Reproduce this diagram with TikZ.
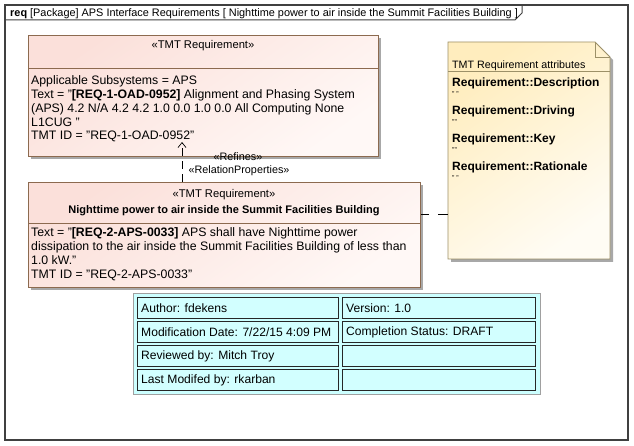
\documentclass[tikz,border=0pt]{standalone}
\usepackage{fontspec}
\setmainfont{Liberation Sans}
\usetikzlibrary{arrows.meta,shadows}
\definecolor{frameC}{HTML}{404040}
\definecolor{reqBorder}{HTML}{8C6A4F}
\definecolor{reqA}{HTML}{FBE0DA}
\definecolor{reqB}{HTML}{FFF8F6}
\definecolor{noteBorder}{HTML}{9C9068}
\definecolor{noteA}{HTML}{FFEDBE}
\definecolor{noteB}{HTML}{FFFCF4}
\definecolor{shadowC}{HTML}{A8A8A8}
\definecolor{tabFill}{HTML}{CCFFFF}
\definecolor{cellFill}{HTML}{D2FFFF}
\definecolor{tabBorder}{HTML}{A0A0A0}
\tikzset{
  reqbox/.style={draw=reqBorder, line width=0.9pt, top color=reqA, bottom color=reqB, shading angle=35,
    anchor=north west, inner sep=0pt, rectangle},
  boxshadow/.style={fill=shadowC, draw=none},
  txt/.style={anchor=base west, inner sep=0pt, font=\fontsize{12.3}{14}\selectfont},
  ctxt/.style={anchor=base, inner sep=0pt, font=\fontsize{11}{14}\selectfont\bfseries},
  stxt/.style={anchor=base, inner sep=0pt, font=\fontsize{11.2}{13}\selectfont},
  ltxt/.style={anchor=base, inner sep=0pt, font=\fontsize{10.8}{13}\selectfont},
  ntxt/.style={anchor=base west, inner sep=0pt, font=\fontsize{10.7}{13}\selectfont},
  nbold/.style={anchor=base west, inner sep=0pt, font=\fontsize{12}{14}\selectfont\bfseries},
  qtxt/.style={anchor=base west, inner sep=0pt, font=\fontsize{7}{8}\selectfont},
  cell/.style={draw=black!85, line width=0.8pt, fill=cellFill, anchor=north west, inner sep=0pt,
    minimum width=201pt, minimum height=21pt},
  celltxt/.style={anchor=west, inner sep=0pt, font=\fontsize{12.1}{14}\selectfont},
  dep/.style={draw=black, line width=0.7pt, dash pattern=on 8pt off 5pt},
}
\begin{document}
\begin{tikzpicture}[x=1pt,y=-1pt]
\useasboundingbox (0,0) rectangle (634,446);
\fill[white] (0,0) rectangle (634,446);
% frame
\draw[frameC, line width=1.3pt] (5,5) rectangle (628,440);
\draw[frameC, line width=1pt] (5,20) -- (515,20) -- (522,13) -- (522,5);
\node[anchor=base west, inner sep=0pt, font=\fontsize{10.9}{12}\selectfont] (title) at (10,16.5)
  {\textbf{req} [Package] APS Interface Requirements [ Nighttime power to air inside the Summit Facilities Building ]};

% box 1
\fill[boxshadow] (31,38) rectangle (381,159);
\node[reqbox, minimum width=350pt, minimum height=121pt] (r1) at (28,35) {};
\draw[reqBorder, line width=0.9pt] (28,68) -- (378,68);
\node[stxt] (r1st) at (203,49) {«TMT Requirement»};
\node[txt] (r1l1) at (31,85) {Applicable Subsystems = APS};
\node[txt] (r1l2) at (31,99) {Text = "\textbf{[REQ-1-OAD-0952]} Alignment and Phasing System};
\node[txt] (r1l3) at (31,113) {(APS) 4.2 N/A 4.2 4.2 1.0 0.0 1.0 0.0 All Computing None};
\node[txt] (r1l4) at (31,127) {L1CUG "};
\node[txt] (r1l5) at (31,140) {TMT ID = "REQ-1-OAD-0952"};

% box 2
\fill[boxshadow] (31,185) rectangle (423,290);
\node[reqbox, minimum width=392pt, minimum height=105pt] (r2) at (28,182) {};
\draw[reqBorder, line width=0.9pt] (28,223) -- (420,223);
\node[stxt] (r2st) at (224,198) {«TMT Requirement»};
\node[ctxt] (r2nm) at (224,214) {Nighttime power to air inside the Summit Facilities Building};
\node[txt] (r2l1) at (31,237) {Text = "\textbf{[REQ-2-APS-0033]} APS shall have Nighttime power};
\node[txt] (r2l2) at (31,251) {dissipation to the air inside the Summit Facilities Building of less than};
\node[txt] (r2l3) at (31,265) {1.0 kW."};
\node[txt] (r2l4) at (31,278) {TMT ID = "REQ-2-APS-0033"};

% refine dependency
\coordinate (tip) at (182,142);
\coordinate (src) at (r2.north -| tip);
\draw[dep, -{Straight Barb[length=5pt,width=8pt]}] (src) -- (tip);
\node[ltxt] (lref) at (238,160.5) {«Refines»};
\node[ltxt] (lrel) at (239,174) {«RelationProperties»};

% note
\fill[boxshadow] (451,45) -- (598,45) -- (613,60) -- (613,262) -- (451,262) -- cycle;
\path[top color=noteA, bottom color=noteB, shading angle=35]
  (448,42) -- (595,42) -- (610,57) -- (610,259) -- (448,259) -- cycle;
\draw[noteBorder, line width=0.9pt] (448,42) -- (595,42) -- (610,57) -- (610,259) -- (448,259) -- cycle;
\draw[noteBorder, line width=0.8pt] (595,42) -- (595,57) -- (610,57);
\draw[noteBorder, line width=0.8pt] (448,71) -- (610,71);
\coordinate (noteW) at (448,214);
\node[ntxt] (nt) at (452,68.5) {TMT Requirement attributes};
\node[nbold] (n1) at (452,87) {Requirement::Description};
\node[qtxt] (q1) at (452,97) {" "};
\node[nbold] (n2) at (452,115) {Requirement::Driving};
\node[qtxt] (q2) at (452,125) {""};
\node[nbold] (n3) at (452,143) {Requirement::Key};
\node[qtxt] (q3) at (452,153) {""};
\node[nbold] (n4) at (452,171) {Requirement::Rationale};
\node[qtxt] (q4) at (452,181) {" "};

% anchor link
\coordinate (r2E) at (r2.east |- noteW);
\draw[black, line width=0.7pt, dash pattern=on 10pt off 9pt] (noteW) -- (r2E);

% table
\draw[tabBorder, fill=tabFill, line width=0.8pt] (133,293) rectangle (540,394);
\node[cell] (c11) at (137,297) {};
\node[cell, minimum width=193pt] (c12) at (342,297) {};
\node[cell] (c21) at (137,321) {};
\node[cell, minimum width=193pt] (c22) at (342,321) {};
\node[cell] (c31) at (137,345) {};
\node[cell, minimum width=193pt] (c32) at (342,345) {};
\node[cell] (c41) at (137,369) {};
\node[cell, minimum width=193pt] (c42) at (342,369) {};
\node[celltxt] at ([xshift=4pt]c11.west) {Author: fdekens};
\node[celltxt] at ([xshift=4pt]c12.west) {Version: 1.0};
\node[celltxt] at ([xshift=4pt]c21.west) {Modification Date: 7/22/15 4:09 PM};
\node[celltxt] at ([xshift=4pt]c22.west) {Completion Status: DRAFT};
\node[celltxt] at ([xshift=4pt]c31.west) {Reviewed by: Mitch Troy};
\node[celltxt] at ([xshift=4pt]c41.west) {Last Modifed by: rkarban};
\end{tikzpicture}
\end{document}
